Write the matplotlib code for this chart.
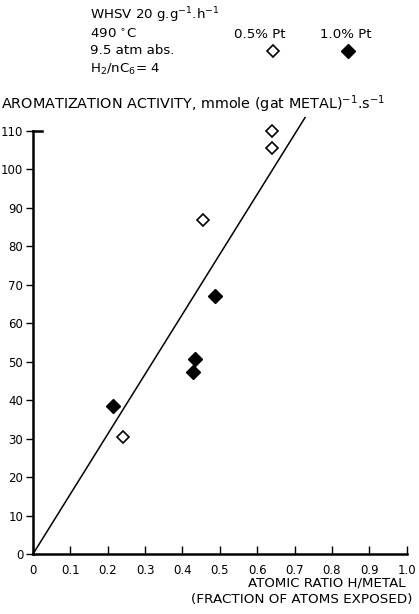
import matplotlib
matplotlib.use("Agg")
import matplotlib.pyplot as plt
import numpy as np

plt.rcParams['font.family'] = ['DejaVu Sans']

# Data
pt05_x = [0.242, 0.455, 0.640, 0.640]
pt05_y = [30.3, 86.8, 110.0, 105.6]
pt10_x = [0.214, 0.433, 0.429, 0.486]
pt10_y = [38.4, 50.6, 47.3, 67.2]
fit_x = [0.0, 0.728]
fit_y = [0.0, 113.5]

xticks = [0, 0.1, 0.2, 0.3, 0.4, 0.5, 0.6, 0.7, 0.8, 0.9, 1.0]
xticklabels = ['0', '0.1', '0.2', '0.3', '0.4', '0.5', '0.6', '0.7', '0.8', '0.9', '1.0']
yticks = [0, 10, 20, 30, 40, 50, 60, 70, 80, 90, 100, 110]
yticklabels = [str(v) for v in yticks]

W, H = 419, 614
fig = plt.figure(figsize=(W / 100, H / 100), dpi=100)
ax = fig.add_axes([33 / W, 1 - 554 / H, (406.7 - 33) / W, (554 - 131) / H])

ax.plot(fit_x, fit_y, color='black', lw=1.1, clip_on=False)
ax.plot(pt05_x, pt05_y, linestyle='none', marker='D', markersize=6.5,
        markerfacecolor='white', markeredgecolor='black', markeredgewidth=1.2, clip_on=False)
ax.plot(pt10_x, pt10_y, linestyle='none', marker='D', markersize=7,
        markerfacecolor='black', markeredgecolor='black', clip_on=False)

ax.set_xlim(0, 1.0)
ax.set_ylim(0, 110)
for s in ['top', 'right']:
    ax.spines[s].set_visible(False)
for s in ['left', 'bottom']:
    ax.spines[s].set_linewidth(1.8)

ax.set_xticks(xticks)
ax.set_xticklabels(xticklabels, fontsize=8.5)
ax.set_yticks(yticks)
ax.set_yticklabels(yticklabels, fontsize=8.5)
ax.tick_params(axis='x', direction='in', length=6, width=1.0, pad=7)
ax.tick_params(axis='y', direction='out', length=5, width=1.0, pad=2)
# hook at the top of the y axis
ax.plot([0, 0.025], [110, 110], color='black', lw=1.8, clip_on=False)

# Axis labels
fig.text(1 / W, 1 - 104 / H,
         r'AROMATIZATION ACTIVITY, mmole (gat METAL)$^{-1}$.s$^{-1}$',
         fontsize=10.4, ha='left', va='center')
fig.text(406 / W, 1 - 583 / H, 'ATOMIC RATIO H/METAL', fontsize=9.6,
         ha='right', va='center')
fig.text(412 / W, 1 - 600 / H, '(FRACTION OF ATOMS EXPOSED)', fontsize=9.7,
         ha='right', va='center')

# Conditions block
cond_lines = [r'WHSV 20 g.g$^{-1}$.h$^{-1}$', r'490 $^{\circ}$C', '9.5 atm abs.',
              r'H$_2$/nC$_6$= 4']
cond_y = [15, 34, 51, 69]
for t, yy in zip(cond_lines, cond_y):
    fig.text(90 / W, 1 - yy / H, t, fontsize=9.6, ha='left', va='center')

# Legend
fig.text(260 / W, 1 - 34 / H, '0.5% Pt', fontsize=9.6, ha='center', va='center')
fig.text(346 / W, 1 - 34 / H, '1.0% Pt', fontsize=9.6, ha='center', va='center')
fig.lines.append(plt.Line2D([273 / W], [1 - 51 / H], transform=fig.transFigure,
                            linestyle='none', marker='D', markersize=6.5,
                            markerfacecolor='white', markeredgecolor='black',
                            markeredgewidth=1.2))
fig.lines.append(plt.Line2D([348 / W], [1 - 51 / H], transform=fig.transFigure,
                            linestyle='none', marker='D', markersize=7,
                            markerfacecolor='black', markeredgecolor='black'))

fig.savefig('out.png', dpi=100)
